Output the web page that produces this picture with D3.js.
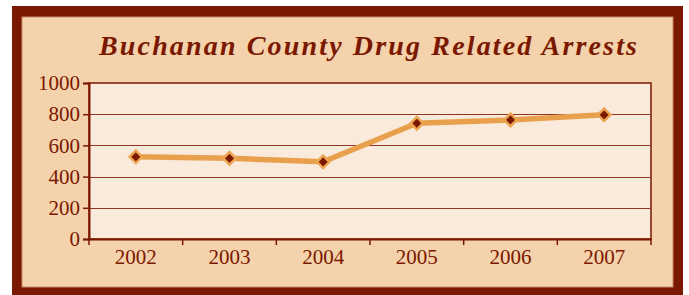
<!DOCTYPE html>
<html>
<head>
<meta charset="utf-8">
<script src="https://cdn.jsdelivr.net/npm/d3@7"></script>
<style>
  html, body { margin: 0; padding: 0; background: #fff; }
  svg { display: block; }
</style>
</head>
<body>
<script>
// chart data
const years = ["2002", "2003", "2004", "2005", "2006", "2007"];
const arrests = [527, 517, 495, 742, 763, 796];
const yTicks = [0, 200, 400, 600, 800, 1000];
const title = "Buchanan County Drug Related Arrests";

const W = 689, H = 295;
const dark = "#7a1800";
const margin = { left: 89, right: 38, top: 83, bottom: 56 };

const svg = d3.select("body").append("svg")
  .attr("width", W)
  .attr("height", H);

// outer frame
svg.append("rect")
  .attr("x", 12).attr("y", 6)
  .attr("width", 671).attr("height", 295)
  .attr("fill", dark);
svg.append("rect")
  .attr("x", 22).attr("y", 17)
  .attr("width", 651).attr("height", 270)
  .attr("fill", "#f4d2ab")
  .attr("stroke", "#c98a6a")
  .attr("stroke-width", 1);

svg.append("text")
  .attr("x", 368).attr("y", 55)
  .attr("text-anchor", "middle")
  .attr("textLength", 538)
  .attr("lengthAdjust", "spacing")
  .style("font-family", "'Liberation Serif', serif")
  .style("font-style", "italic")
  .style("font-weight", "bold")
  .style("font-size", "28px")
  .attr("fill", dark)
  .text(title);

const x = d3.scaleBand()
  .domain(years)
  .range([margin.left, W - margin.right]);

const y = d3.scaleLinear()
  .domain([0, 1000])
  .range([H - margin.bottom, margin.top]);

// plot area
svg.append("rect")
  .attr("x", margin.left).attr("y", margin.top)
  .attr("width", W - margin.right - margin.left)
  .attr("height", H - margin.bottom - margin.top)
  .attr("fill", "#faeadb")
  .attr("stroke", dark)
  .attr("stroke-width", 1.5);

// gridlines
svg.append("g")
  .selectAll("line")
  .data(yTicks.filter(d => d > 0 && d < 1000))
  .enter()
  .append("line")
  .attr("x1", margin.left)
  .attr("x2", W - margin.right)
  .attr("y1", d => Math.round(y(d)) + 0.5)
  .attr("y2", d => Math.round(y(d)) + 0.5)
  .attr("stroke", "#8f3420")
  .attr("stroke-width", 1.2);

const yAxis = svg.append("g")
  .attr("transform", `translate(${margin.left},0)`)
  .call(d3.axisLeft(y).tickValues(yTicks).tickFormat(d3.format("d")).tickSize(6).tickPadding(3));

const xAxis = svg.append("g")
  .attr("transform", `translate(0,${H - margin.bottom})`)
  .call(d3.axisBottom(x).tickSize(0).tickPadding(10));

// x ticks at category boundaries
svg.append("g")
  .selectAll("line")
  .data(years.map(d => x(d)).concat([W - margin.right]))
  .enter()
  .append("line")
  .attr("x1", d => d).attr("x2", d => d)
  .attr("y1", H - margin.bottom)
  .attr("y2", H - margin.bottom + 6)
  .attr("stroke", dark)
  .attr("stroke-width", 1.5);

[yAxis, xAxis].forEach(ax => {
  ax.select(".domain").attr("stroke", dark).attr("stroke-width", 2);
  ax.selectAll(".tick line").attr("stroke", dark).attr("stroke-width", 1.5);
  ax.selectAll("text")
    .attr("fill", dark)
    .style("font-family", "'Liberation Serif', serif")
    .style("font-size", "21px");
});

const line = d3.line()
  .x((d, i) => x(years[i]) + x.bandwidth() / 2)
  .y(d => y(d));

svg.append("path")
  .datum(arrests)
  .attr("d", line)
  .attr("fill", "none")
  .attr("stroke", "#e8a04c")
  .attr("stroke-width", 5.5)
  .attr("stroke-linejoin", "round");

svg.append("g")
  .selectAll("path")
  .data(arrests)
  .enter()
  .append("path")
  .attr("d", d3.symbol().type(d3.symbolDiamond2).size(100))
  .attr("transform", (d, i) => `translate(${x(years[i]) + x.bandwidth() / 2},${y(d)})`)
  .attr("fill", dark)
  .attr("stroke", "#eba552")
  .attr("stroke-width", 2.5);
</script>
</body>
</html>
